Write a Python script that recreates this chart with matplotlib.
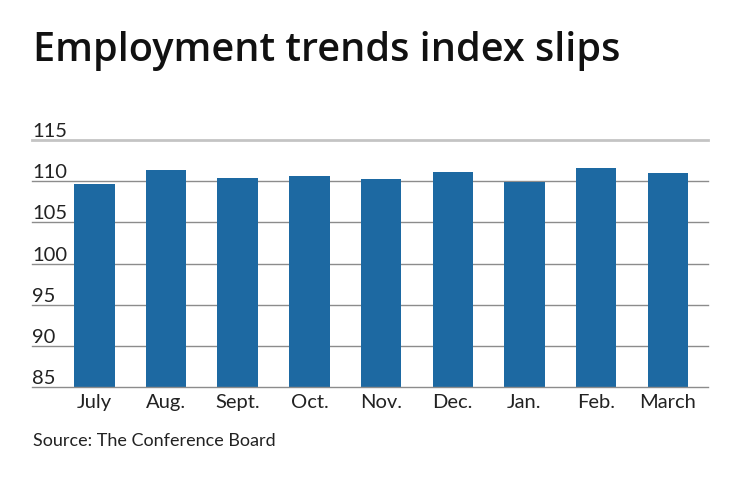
import matplotlib
matplotlib.use("Agg")
import matplotlib.pyplot as plt
import matplotlib.transforms as mtransforms

plt.rcParams['font.family'] = ['Lato', 'DejaVu Sans']

months = ['July', 'Aug.', 'Sept.', 'Oct.', 'Nov.', 'Dec.', 'Jan.', 'Feb.', 'March']
index_values = [109.7, 111.4, 110.4, 110.6, 110.3, 111.1, 109.9, 111.6, 111.0]
y_ticks = [85, 90, 95, 100, 105, 110, 115]

bar_color = '#1d69a2'

fig = plt.figure(figsize=(7.4, 4.82), dpi=100)
ax = fig.add_axes([32 / 740, 1 - 387 / 482, (708 - 32) / 740, (387 - 140) / 482])

x = list(range(len(months)))
ax.bar(x, index_values, width=0.565, color=bar_color, zorder=3)

ax.set_ylim(85, 115)
ax.set_xlim(-0.87, 8.56)

# horizontal gridlines, top one lighter
for v in y_ticks:
    if v == 115:
        ax.axhline(v, color='#c4c4c4', lw=2, zorder=1, clip_on=False)
    else:
        ax.axhline(v, color='#8c8c8c', lw=1, zorder=1 if v != 85 else 4, clip_on=False)

ax.set_yticks(y_ticks)
ax.set_yticklabels([str(v) for v in y_ticks], fontsize=14.5, color='#222222')
offset = mtransforms.ScaledTranslation(1 / 100, 3 / 100, fig.dpi_scale_trans)
for lab in ax.get_yticklabels():
    lab.set_horizontalalignment('left')
    lab.set_verticalalignment('bottom')
    lab.set_transform(lab.get_transform() + offset)
ax.tick_params(axis='y', length=0, pad=0)

ax.set_xticks(x)
ax.set_xticklabels(months, fontsize=14.5, color='#222222')
ax.tick_params(axis='x', length=0, pad=5)

for s in ax.spines.values():
    s.set_visible(False)

fig.text(33 / 740, 1 - 61 / 482, 'Employment trends index slips', fontsize=28.5,
         fontweight='semibold', family=['Open Sans', 'DejaVu Sans'],
         color='#111111', va='baseline', ha='left')
fig.text(33 / 740, 1 - 441 / 482, 'Source: The Conference Board', fontsize=13,
         color='#222222', va='center', ha='left')

fig.savefig('out.png', dpi=100)
